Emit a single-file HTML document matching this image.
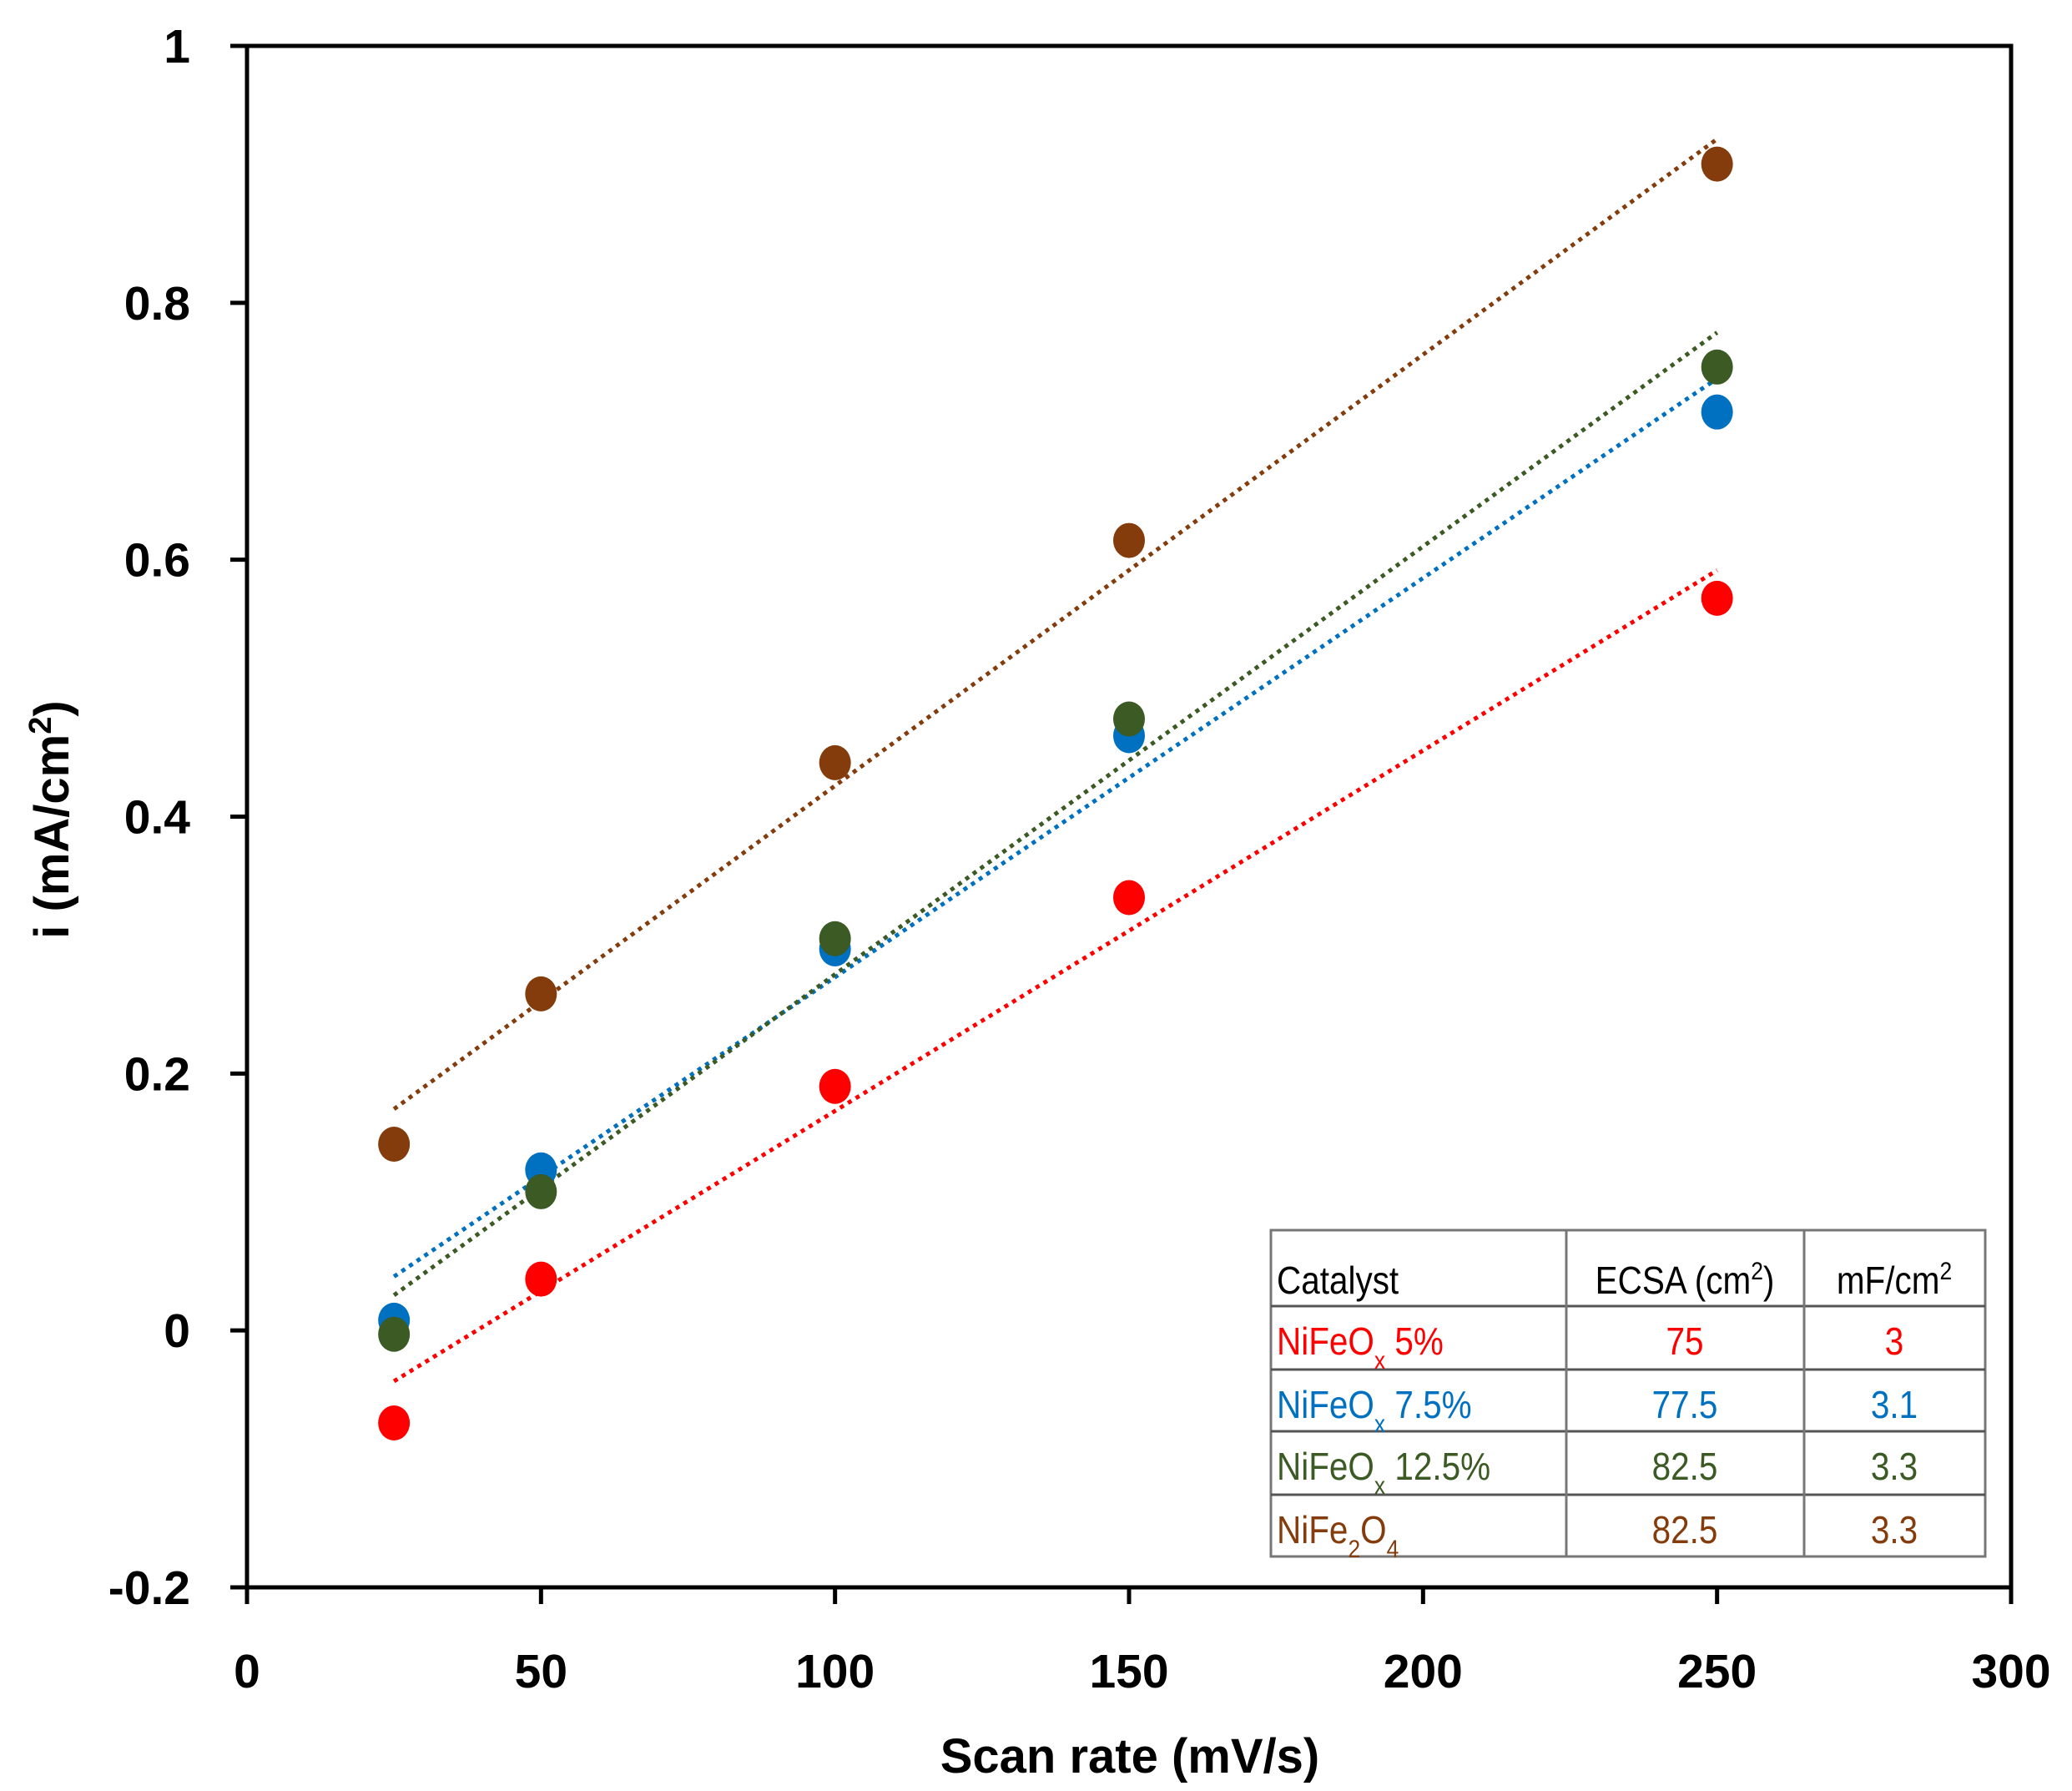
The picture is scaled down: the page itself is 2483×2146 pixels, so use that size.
<!DOCTYPE html>
<html><head><meta charset="utf-8"><style>
html,body{margin:0;padding:0;background:#fff;}
svg{display:block;}
text{font-family:"Liberation Sans",sans-serif;}
</style></head><body>
<svg id="chart" width="2483" height="2146" viewBox="0 0 2483 2146" xmlns="http://www.w3.org/2000/svg">
<rect width="2483" height="2146" fill="#fff"/>
<g id="marks"></g>
<g id="axes"></g>
<g id="legend-table"></g>
</svg>
<script>
const xTicks = [0, 50, 100, 150, 200, 250, 300];
const yTicks = [-0.2, 0, 0.2, 0.4, 0.6, 0.8, 1];
const yTickLabels = ["-0.2", "0", "0.2", "0.4", "0.6", "0.8", "1"];
const scanRates = [25, 50, 100, 150, 250];
const seriesNames = ["NiFeOx 5%", "NiFeOx 7.5%", "NiFeOx 12.5%", "NiFe2O4"];
const redValues = [-0.072, 0.040, 0.190, 0.337, 0.570];
const blueValues = [0.008, 0.125, 0.297, 0.463, 0.715];
const greenValues = [-0.003, 0.108, 0.305, 0.476, 0.750];
const brownValues = [0.145, 0.262, 0.442, 0.615, 0.908];
const ecsaValues = ["75", "77.5", "82.5", "82.5"];
const capValues = ["3", "3.1", "3.3", "3.3"];

const NS = "http://www.w3.org/2000/svg";
const X0 = 296, X1 = 2410, Y0 = 1902, Y1 = 55;
const xs = v => X0 + (v - 0) / 300 * (X1 - X0);
const ys = v => Y0 - (v + 0.2) / 1.2 * (Y0 - Y1);
function mk(tag, attrs, parent) {
  const e = document.createElementNS(NS, tag);
  for (const k in attrs) e.setAttribute(k, attrs[k]);
  parent.appendChild(e);
  return e;
}
const marks = document.getElementById('marks');
const axes = document.getElementById('axes');
const colors = ["#ff0000", "#0070c0", "#3b5a24", "#843c0c"];
const allSeries = [redValues, blueValues, greenValues, brownValues];
const drawOrder = [3, 0, 1, 2];
drawOrder.forEach(i => {
  const ys_ = allSeries[i];
  const n = scanRates.length;
  const mx = scanRates.reduce((a, b) => a + b, 0) / n;
  const my = ys_.reduce((a, b) => a + b, 0) / n;
  let sxy = 0, sxx = 0;
  for (let j = 0; j < n; j++) { sxy += (scanRates[j] - mx) * (ys_[j] - my); sxx += (scanRates[j] - mx) ** 2; }
  const m = sxy / sxx, b = my - m * mx;
  const xa = scanRates[0], xb = scanRates[n - 1];
  const l = mk('line', {x1: xs(xa), y1: ys(m * xa + b), x2: xs(xb), y2: ys(m * xb + b), stroke: colors[i], 'stroke-width': 5, 'stroke-dasharray': '5 6'}, marks);
  
  
});
drawOrder.forEach(i => {
  allSeries[i].forEach((v, j) => {
    const c = mk('ellipse', {cx: xs(scanRates[j]), cy: ys(v), rx: 19, ry: 21, fill: colors[i]}, marks);
    
    
  });
});
const box = mk('rect', {x: X0, y: Y1, width: X1 - X0, height: Y0 - Y1, fill: 'none', stroke: '#000', 'stroke-width': 5}, axes);


yTicks.forEach((v, i) => {
  const t = mk('line', {x1: X0 - 20, x2: X0, y1: ys(v), y2: ys(v), stroke: '#000', 'stroke-width': 5}, axes);
  
  
  const lb = mk('text', {x: 228, y: ys(v) + 20, 'text-anchor': 'end', 'font-size': 57, 'font-weight': 'bold'}, axes);
  lb.textContent = yTickLabels[i];
  
  
});
xTicks.forEach(v => {
  const t = mk('line', {x1: xs(v), x2: xs(v), y1: Y0, y2: Y0 + 20, stroke: '#000', 'stroke-width': 5}, axes);
  
  
  const lb = mk('text', {x: xs(v), y: 2022, 'text-anchor': 'middle', 'font-size': 57, 'font-weight': 'bold'}, axes);
  lb.textContent = String(v);
  
  
});
const xt = mk('text', {x: 1354, y: 2124, 'text-anchor': 'middle', 'font-size': 58, 'font-weight': 'bold'}, axes);
xt.textContent = 'Scan rate (mV/s)';


const yt = mk('text', {x: 0, y: 0, 'text-anchor': 'middle', 'font-size': 58, 'font-weight': 'bold', transform: 'translate(82,982) rotate(-90)'}, axes);
yt.innerHTML = 'i (mA/cm<tspan baseline-shift="super" font-size="38">2</tspan>)';


const tg = document.getElementById('legend-table');
const colX = [1523, 1877, 2162, 2379];
const rowY = [1474, 1565, 1641, 1715, 1791, 1865];
mk('rect', {x: colX[0], y: rowY[0], width: colX[3] - colX[0], height: rowY[5] - rowY[0], fill: '#fff', stroke: '#777', 'stroke-width': 3}, tg);
rowY.slice(1, 5).forEach(y => mk('line', {x1: colX[0], x2: colX[3], y1: y, y2: y, stroke: '#555', 'stroke-width': 3}, tg));
[colX[1], colX[2]].forEach(x => mk('line', {x1: x, x2: x, y1: rowY[0], y2: rowY[5], stroke: '#777', 'stroke-width': 3}, tg));
function cell(txt, x, y, anchor, color, html) {
  const t = mk('text', {x: 0, y: 0, 'text-anchor': anchor, 'font-size': 46, fill: color, transform: 'translate(' + x + ',' + y + ') scale(0.88,1)'}, tg);
  if (html) t.innerHTML = txt; else t.textContent = txt;
  
  
}
cell('Catalyst', 1530, 1550, 'start', '#000');
cell('ECSA (cm<tspan baseline-shift="super" font-size="30">2</tspan>)', 2019, 1550, 'middle', '#000', true);
cell('mF/cm<tspan baseline-shift="super" font-size="30">2</tspan>', 2270, 1550, 'middle', '#000', true);
const names = ['NiFeO<tspan baseline-shift="sub" font-size="30">x</tspan> 5%', 'NiFeO<tspan baseline-shift="sub" font-size="30">x</tspan> 7.5%', 'NiFeO<tspan baseline-shift="sub" font-size="30">x</tspan> 12.5%', 'NiFe<tspan baseline-shift="sub" font-size="30">2</tspan>O<tspan baseline-shift="sub" font-size="30">4</tspan>'];
for (let i = 0; i < 4; i++) {
  const by = rowY[i + 1] + 58;
  cell(names[i], 1530, by, 'start', colors[i], true);
  cell(ecsaValues[i], 2019, by, 'middle', colors[i]);
  cell(capValues[i], 2270, by, 'middle', colors[i]);
}
</script>
</body></html>
